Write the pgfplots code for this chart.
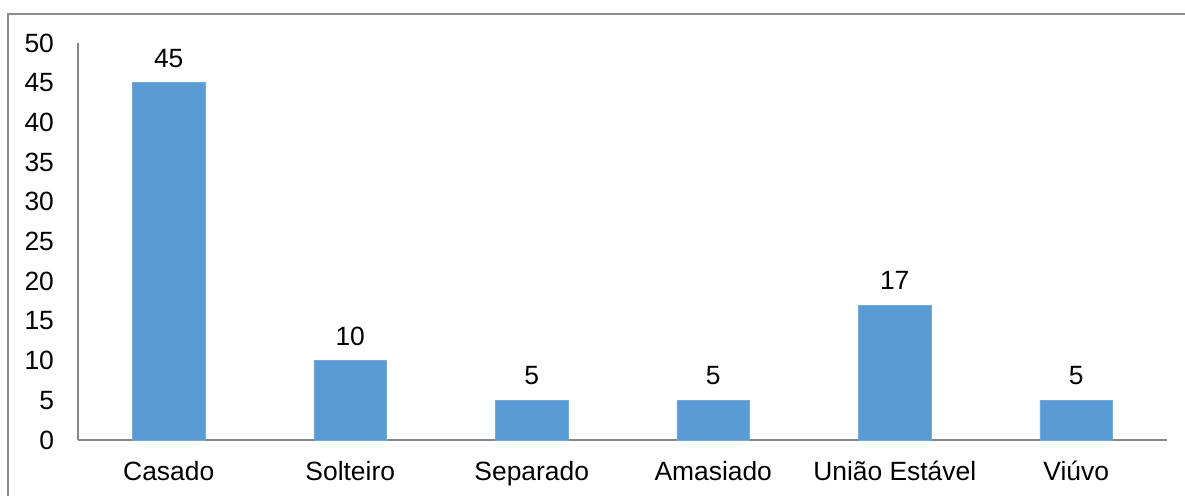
\documentclass[border=0pt]{standalone}
\usepackage{pgfplots}
\pgfplotsset{compat=1.18}
\usepackage{fontspec}
\setmainfont{Liberation Sans}
\definecolor{barblue}{HTML}{5B9BD5}
\definecolor{axisgray}{HTML}{868686}
\definecolor{framegray}{HTML}{8C8C8C}
\begin{document}
\begin{tikzpicture}
\path[use as bounding box] (0,0) rectangle (592.5pt,248pt);
\draw[framegray, line width=0.7pt] (4pt,-2pt) -- (4pt,241pt) -- (594pt,241pt);
\begin{axis}[
  at={(39pt,28pt)}, anchor=south west,
  width=544.5pt, height=198.5pt, scale only axis,
  ymin=0, ymax=50, ytick={0,5,...,50},
  xmin=-0.5, xmax=5.5,
  xtick=data,
  xticklabels={Casado,Solteiro,Separado,Amasiado,União Estável,Viúvo},
  axis x line=bottom, axis y line=left,
  axis line style={axisgray, line width=0.8pt, -},
  major tick length=0pt,
  tick style={draw=none},
  /pgf/number format/assume math mode=true,
  ticklabel style={font=\fontsize{13.2}{15}\selectfont},
  yticklabel style={xshift=-8.5pt},
  xticklabel style={yshift=-7pt},
  ybar, bar width=0.4,
  nodes near coords,
  nodes near coords style={font=\fontsize{13.2}{15}\selectfont, yshift=4pt},
  clip=false,
]
\addplot[fill=barblue, draw=barblue!85!white] coordinates {(0,45) (1,10) (2,5) (3,5) (4,17) (5,5)};
\end{axis}
\end{tikzpicture}
\end{document}
